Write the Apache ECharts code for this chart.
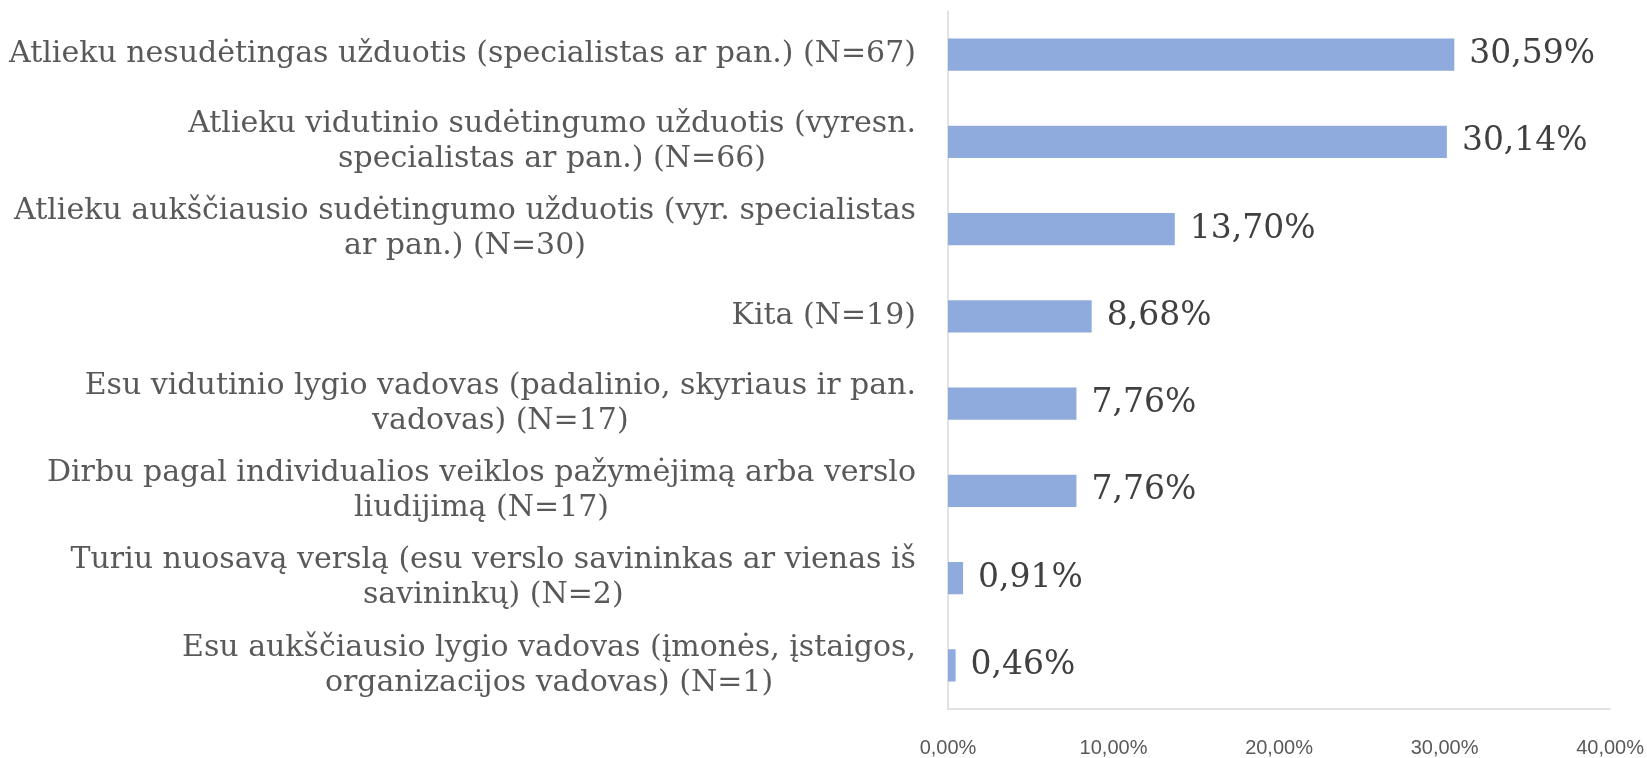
<!DOCTYPE html>
<html>
<head>
<meta charset="utf-8">
<script src="https://cdn.jsdelivr.net/npm/echarts@6/dist/echarts.min.js"></script>
<style>
  html, body { margin: 0; padding: 0; background: #fff; }
</style>
</head>
<body>
<div id="chart" style="width:1647px;height:758px;"></div>
<script>
// kategorijos (iš viršaus į apačią)
const categories = [
  'Atlieku nesudėtingas užduotis (specialistas ar pan.) (N=67)',
  'Atlieku vidutinio sudėtingumo užduotis (vyresn.\nspecialistas ar pan.) (N=66)',
  'Atlieku aukščiausio sudėtingumo užduotis (vyr. specialistas\nar pan.) (N=30)',
  'Kita (N=19)',
  'Esu vidutinio lygio vadovas (padalinio, skyriaus ir pan.\nvadovas) (N=17)',
  'Dirbu pagal individualios veiklos pažymėjimą arba verslo\nliudijimą (N=17)',
  'Turiu nuosavą verslą (esu verslo savininkas ar vienas iš\nsavininkų) (N=2)',
  'Esu aukščiausio lygio vadovas (įmonės, įstaigos,\norganizacijos vadovas) (N=1)'
];
const values = [30.59, 30.14, 13.70, 8.68, 7.76, 7.76, 0.91, 0.46];
const xTicks = [0, 10, 20, 30, 40];

const pct = v => v.toFixed(2).replace('.', ',') + '%';

const chart = echarts.init(document.getElementById('chart'));
chart.setOption({
  animation: false,
  grid: { left: 948, right: 33, top: 11, bottom: 45, containLabel: false },
  xAxis: {
    type: 'value',
    min: xTicks[0],
    max: xTicks[xTicks.length - 1],
    interval: 10,
    splitLine: { show: false },
    axisTick: { show: false },
    axisLine: { show: true, lineStyle: { color: '#d9d9d9', width: 1.5 } },
    axisLabel: {
      margin: 29,
      color: '#595959',
      fontSize: 20,
      fontFamily: 'Liberation Sans Narrow, Liberation Sans, sans-serif',
      formatter: v => pct(v)
    }
  },
  yAxis: {
    type: 'category',
    inverse: true,
    data: categories,
    axisTick: { show: false },
    axisLine: { show: true, lineStyle: { color: '#d9d9d9', width: 1.5 } },
    axisLabel: {
      margin: 32,
      interval: 0,
      formatter: s => s.split('\n').map(l => '{c|' + l + '}').join('\n'),
      rich: {
        c: {
          align: 'center',
          color: '#595959',
          fontSize: 30,
          lineHeight: 35,
          fontFamily: 'DejaVu Serif, serif'
        }
      }
    }
  },
  series: [{
    type: 'bar',
    data: values,
    barCategoryGap: '63%',
    itemStyle: { color: '#8faadc' },
    label: {
      show: true,
      position: 'right',
      distance: 15,
      color: '#404040',
      fontSize: 33,
      fontFamily: 'DejaVu Serif, serif',
      formatter: p => pct(p.value)
    }
  }]
});
</script>
</body>
</html>
